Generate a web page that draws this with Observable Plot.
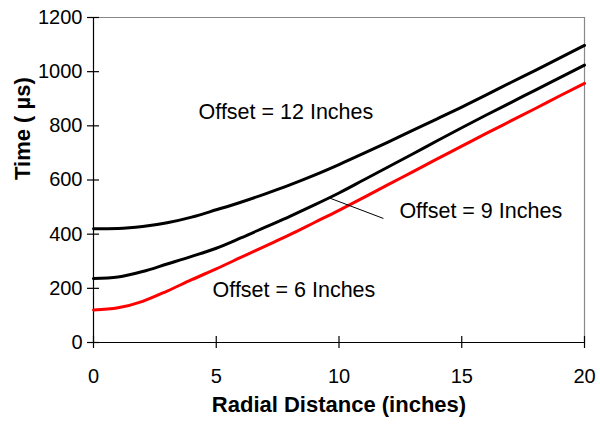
<!DOCTYPE html>
<html><head><meta charset="utf-8">
<script src="https://cdn.jsdelivr.net/npm/d3@7"></script>
<script src="https://cdn.jsdelivr.net/npm/@observablehq/plot@0.6"></script>
<style>body{margin:0;background:#fff}</style>
</head><body><div id="chart"></div>
<script>
const radial   = [0, 1, 2, 3, 4, 5, 6, 7, 8, 9, 10, 11, 12, 13, 14, 15, 16, 17, 18, 19, 20];
const offset12 = [420, 421, 428, 442, 463, 490, 518, 549, 582, 618, 657, 698, 740, 783, 826, 869, 914, 960, 1005, 1051, 1097];
const offset9  = [236, 242, 262, 290, 318, 348, 386, 426, 466, 508, 552, 600, 648, 696, 745, 793, 840, 886, 932, 978, 1024];
const offset6  = [120, 128, 152, 190, 232, 272, 314, 356, 398, 443, 488, 535, 583, 630, 678, 725, 772, 818, 864, 911, 957];
const seriesNames  = ["Offset = 12 Inches", "Offset = 9 Inches", "Offset = 6 Inches"];
const seriesColors = ["#000000", "#000000", "#ff0000"];
const xTicks = [0, 5, 10, 15, 20];
const yTicks = [0, 200, 400, 600, 800, 1000, 1200];
const labelR = [4.28, 12.46, 4.85];
const labelT = [849, 484, 192];
const leaderR = [9.57, 11.81];
const leaderT = [535, 458];
const xTitle = "Radial Distance (inches)";
const yTitle = "Time ( µs)";

const allSeries = [offset12, offset9, offset6];
const rows = [];
allSeries.forEach((vals, s) => vals.forEach((v, i) => rows.push({r: radial[i], t: v, s: seriesNames[s]})));
const labelRows = seriesNames.map((n, i) => ({n, r: labelR[i], t: labelT[i]}));

const font = "'Liberation Sans', Arial, sans-serif";
const fmt = d => String(d);
const chart = Plot.plot({
  width: 600, height: 426,
  marginLeft: 93, marginRight: 16, marginTop: 17, marginBottom: 84,
  style: {fontFamily: font, fontSize: "18px", background: "#fff", color: "#000"},
  x: {domain: [0, 20]},
  y: {domain: [0, 1200]},
  color: {domain: seriesNames, range: seriesColors},
  marks: [
    Plot.ruleY([1200], {stroke: "#888", strokeWidth: 1.2}),
    Plot.ruleX([20], {stroke: "#888", strokeWidth: 1.2}),
    Plot.axisY(yTicks, {tickSize: 12, dx: 6, tickFormat: () => "", label: null, strokeWidth: 1.2}),
    Plot.axisY(yTicks, {tickSize: 0, tickPadding: 11, tickFormat: fmt, label: null, fontSize: 20}),
    Plot.axisX(xTicks, {tickSize: 12, dy: -6, tickFormat: () => "", label: null, strokeWidth: 1.2}),
    Plot.axisX(xTicks, {tickSize: 0, tickPadding: 26, tickFormat: fmt, label: null, fontSize: 20}),
    Plot.ruleX([0], {stroke: "#000", strokeWidth: 1.2}),
    Plot.ruleY([0], {stroke: "#000", strokeWidth: 1.2}),
    Plot.line(rows, {x: "r", y: "t", z: "s", stroke: "s", strokeWidth: 3, curve: "monotone-x"}),
    Plot.link([0], {x1: () => leaderR[0], y1: () => leaderT[0], x2: () => leaderR[1], y2: () => leaderT[1], stroke: "#000", strokeWidth: 1}),
    Plot.text(labelRows, {x: "r", y: "t", text: "n", textAnchor: "start", fontSize: 21.5, fill: "#000"}),
    Plot.text([xTitle], {frameAnchor: "bottom", dy: 69, fontWeight: "bold", fontSize: 22, fill: "#000"}),
    Plot.text([yTitle], {frameAnchor: "left", dx: -71, rotate: -90, fontWeight: "bold", fontSize: 22, fill: "#000"})
  ]
});
document.getElementById("chart").appendChild(chart);
</script>
</body></html>
